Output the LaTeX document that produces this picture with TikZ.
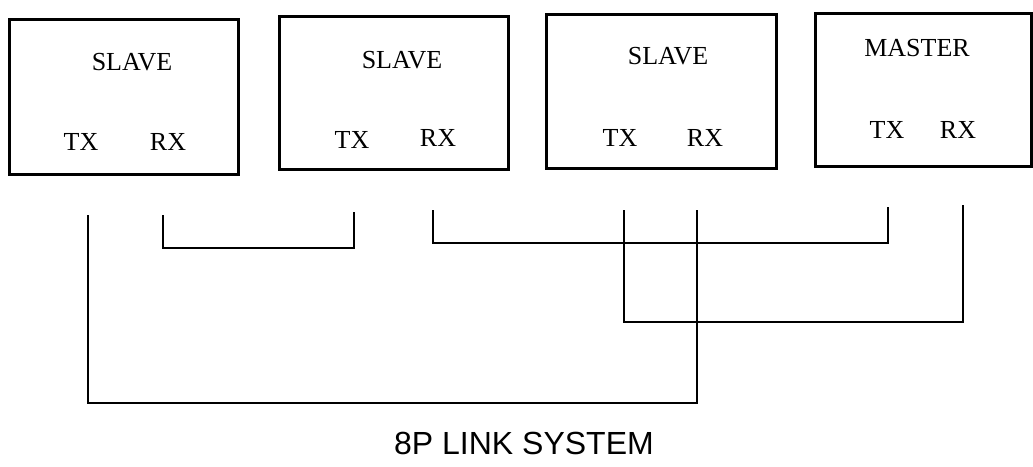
\documentclass[tikz,border=0pt]{standalone}
\usepackage{fontspec}
\setmainfont{Liberation Serif}
\newfontfamily\titlefont{Liberation Sans}
\usetikzlibrary{positioning}
\tikzstyle{unit} = [rectangle, draw, line width=2.6pt, anchor=north west, inner sep=0pt]
\tikzstyle{lbl} = [font=\fontsize{26}{26}\selectfont, inner sep=0pt]
\tikzstyle{line} = [draw, line width=2.6pt]

\begin{document}
\begin{tikzpicture}[x=1pt, y=-1pt]
			\useasboundingbox (0,0) rectangle (1033,466);
			% units
			\node [unit, minimum width=229pt, minimum height=155pt] (s1) at (8,18) {};
			\node [unit, minimum width=229pt, minimum height=153pt] (s2) at (278,15) {};
			\node [unit, minimum width=230pt, minimum height=154pt] (s3) at (545,13) {};
			\node [unit, minimum width=216pt, minimum height=153pt] (m) at (814,12) {};
			\node [lbl] (n1) at (132,62) {SLAVE};
			\node [lbl] (n2) at (402,60) {SLAVE};
			\node [lbl] (n3) at (668,56) {SLAVE};
			\node [lbl] (n4) at (917,48) {MASTER};
			\node [lbl] (tx1) at (81,142) {TX};
			\node [lbl] (rx1) at (168,142) {RX};
			\node [lbl] (tx2) at (352,140) {TX};
			\node [lbl] (rx2) at (438,138) {RX};
			\node [lbl] (tx3) at (620,138) {TX};
			\node [lbl] (rx3) at (705,138) {RX};
			\node [lbl] (tx4) at (887,130) {TX};
			\node [lbl] (rx4) at (958,130) {RX};
			% line ends
			\coordinate (t1) at (88,215);
			\coordinate (r1) at (163,215);
			\coordinate (t2) at (354,212);
			\coordinate (r2) at (433,210);
			\coordinate (t3) at (624,210);
			\coordinate (r3) at (697,210);
			\coordinate (t4) at (888,207);
			\coordinate (r4) at (963,205);
			\path [line] (r1) -- ++(0,33) -| (t2);
			\path [line] (r2) -- ++(0,33) -| (t4);
			\path [line] (t3) -- ++(0,112) -| (r4);
			\path [line] (t1) -- ++(0,188) -| (r3);
			\node [font=\titlefont\fontsize{32}{32}\selectfont, inner sep=0pt] (title) at (524,443) {8P LINK SYSTEM};
			\end{tikzpicture}
\end{document}
